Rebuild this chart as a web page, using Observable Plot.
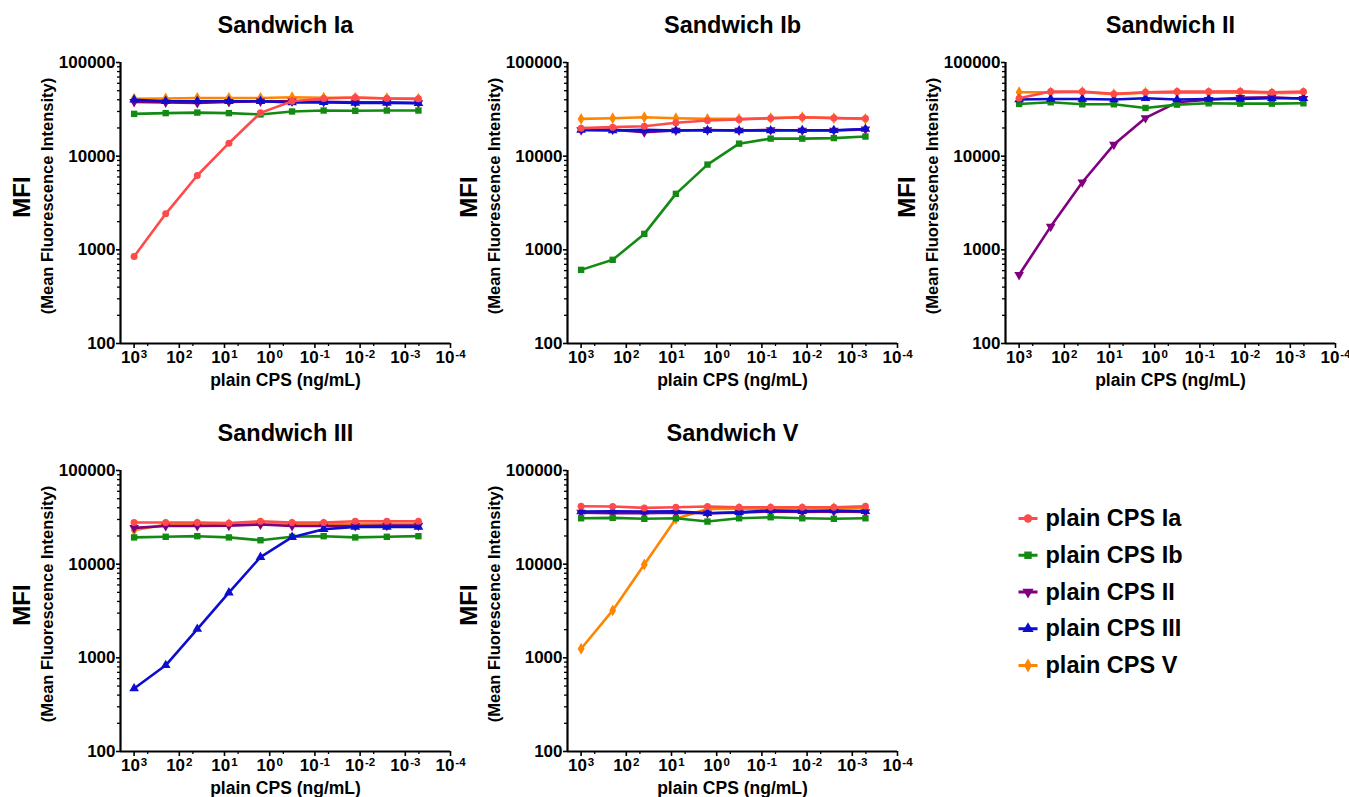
<!DOCTYPE html>
<html>
<head>
<meta charset="utf-8">
<script src="https://cdn.jsdelivr.net/npm/d3@7"></script>
<script src="https://cdn.jsdelivr.net/npm/@observablehq/plot@0.6"></script>
<style>
  html, body { margin: 0; padding: 0; background: #fff; overflow: hidden; }
  #root { position: relative; width: 1349px; height: 797px; background: #fff; }
  #root > svg { position: absolute; overflow: visible; }
</style>
</head>
<body>
<div id="root"></div>
<script>
// ---------- data ----------
const concentrations = [1000, 200, 40, 8, 1.6, 0.32, 0.064, 0.0128, 0.00256, 0.000512];
const seriesNames = ["plain CPS Ia", "plain CPS Ib", "plain CPS II", "plain CPS III", "plain CPS V"];
const seriesColors = ["#ff4a4a", "#138a13", "#800080", "#0d0dcf", "#ff8500"];
const panelTitles = ["Sandwich Ia", "Sandwich Ib", "Sandwich II", "Sandwich III", "Sandwich V"];

const xDecadeTicks = [1000, 100, 10, 1, 0.1, 0.01, 0.001, 0.0001];
const xMinorTicks = [500, 50, 5, 0.5, 0.05, 0.005, 0.0005];
const yMajorTicks = [100, 1000, 10000, 100000];
const yMinorTicks = [200, 300, 400, 500, 600, 700, 800, 900,
                     2000, 3000, 4000, 5000, 6000, 7000, 8000, 9000,
                     20000, 30000, 40000, 50000, 60000, 70000, 80000, 90000];

// MFI values, rows in seriesNames order (Ia, Ib, II, III, V)
const sandwichIa = [
  [849, 2425, 6220, 13750, 29000, 38600, 41200, 42300, 41200, 40900],
  [28300, 28800, 29200, 28800, 27900, 30000, 30700, 30500, 30700, 30700],
  [38000, 37500, 37000, 38000, 38500, 38500, 38000, 37500, 37500, 37000],
  [40000, 38600, 38600, 38600, 38600, 37400, 37600, 37000, 37000, 36800],
  [41000, 41300, 41800, 41800, 41800, 42600, 42000, 42000, 41500, 41000]
];
const sandwichIb = [
  [19900, 20400, 20900, 22700, 24000, 24600, 25400, 26000, 25600, 25200],
  [611, 782, 1480, 3960, 8130, 13600, 15400, 15400, 15600, 16200],
  [19000, 19200, 18000, 18800, 19000, 18800, 19000, 18800, 18800, 19300],
  [19100, 18800, 19100, 18800, 18900, 18800, 18800, 18900, 18900, 19500],
  [25000, 25400, 26000, 25400, 25000, 25000, 25500, 26000, 25500, 25000]
];
const sandwichII = [
  [41500, 48900, 48900, 46200, 48100, 48900, 48900, 49300, 48100, 48900],
  [36100, 37600, 35800, 35800, 32700, 35500, 36700, 36400, 36400, 36700],
  [541, 1770, 5270, 13300, 25600, 37600, 40000, 42000, 42500, 41000],
  [40200, 40800, 40800, 40200, 41500, 40200, 40800, 40800, 41500, 41500],
  [48100, 48000, 48500, 46000, 47500, 48000, 47500, 48000, 47000, 47500]
];
const sandwichIII = [
  [27800, 27800, 27800, 27400, 28700, 27800, 27800, 28700, 28700, 28700],
  [19300, 19600, 19900, 19300, 18000, 19600, 19900, 19300, 19600, 19900],
  [24400, 25600, 25600, 25800, 26500, 25600, 25600, 25600, 25800, 25800],
  [470, 832, 2030, 4960, 11900, 19400, 23600, 25000, 25000, 25000],
  [23000, 26500, 26800, 26800, 27000, 26800, 26800, 27000, 27000, 27000]
];
const sandwichV = [
  [41500, 41200, 39900, 40500, 41200, 40500, 40500, 40500, 40500, 41500],
  [30900, 31200, 30500, 30900, 28500, 30900, 31700, 30900, 30500, 30900],
  [35500, 35000, 35000, 35500, 35000, 35500, 36500, 36000, 36500, 36000],
  [36500, 36700, 36500, 36700, 35000, 35800, 37400, 36700, 37400, 36700],
  [1250, 3210, 9930, 30500, 38900, 39000, 39000, 39000, 39500, 39500]
];
const panelValues = [sandwichIa, sandwichIb, sandwichII, sandwichIII, sandwichV];

// ---------- layout ----------
const FONT = "'Liberation Sans', Arial, Helvetica, sans-serif";
const panelPos = [[0, 0], [447, 0], [885, 0], [0, 408], [447, 408]];
const drawOrder = [4, 2, 1, 3, 0]; // V, II, Ib, III, Ia (Ia on top)

const triangleDown = {
  draw(context, size) {
    const y = -Math.sqrt(size / (Math.sqrt(3) * 3));
    context.moveTo(0, -y * 2);
    context.lineTo(-Math.sqrt(3) * y, y);
    context.lineTo(Math.sqrt(3) * y, y);
    context.closePath();
  }
};
const seriesSymbols = ["circle", "square", triangleDown, "triangle", "diamond"];
const seriesR = [3.5, 3.6, 3.6, 3.6, 3.6];

const root = document.getElementById("root");

function superscriptTicks(svg) {
  svg.querySelectorAll('[aria-label="x-axis tick label"] text').forEach(t => {
    const s = t.textContent;
    const [base, exp] = s.split("^");
    t.textContent = base;
    const ts = document.createElementNS("http://www.w3.org/2000/svg", "tspan");
    ts.setAttribute("dy", "-0.42em");
    ts.setAttribute("font-size", "11.5px");
    ts.setAttribute("dx", "1");
    ts.textContent = exp;
    t.appendChild(ts);
  });
}

panelTitles.forEach((title, p) => {
  const vals = panelValues[p];
  const marks = [];
  drawOrder.forEach(i => {
    const rows = concentrations.map((c, j) => ({conc: c, mfi: vals[i][j]}));
    marks.push(Plot.line(rows, {x: "conc", y: "mfi", stroke: seriesColors[i], strokeWidth: 2.6}));
    marks.push(Plot.dot(rows, {x: "conc", y: "mfi", fill: seriesColors[i], stroke: "none", r: seriesR[i], symbol: seriesSymbols[i]}));
  });

  const svg = Plot.plot({
    width: 470,
    height: 390,
    marginLeft: 120,
    marginRight: 20,
    marginTop: 62,
    marginBottom: 47,
    style: {fontFamily: FONT, fontSize: "17px", fontWeight: "bold", color: "#000", background: "transparent", overflow: "visible"},
    x: {type: "log", domain: [2000, 0.0001], label: null},
    y: {type: "log", domain: [100, 100000], label: null},
    marks: [
      Plot.axisY({ticks: yMinorTicks, tickSize: 3, tickFormat: () => "", strokeWidth: 1.3, label: null}),
      Plot.axisY({ticks: yMajorTicks, tickSize: 4, tickPadding: 1, tickFormat: d => String(d), strokeWidth: 1.6, label: null}),
      Plot.axisX({ticks: xMinorTicks, tickSize: 3, tickFormat: () => "", strokeWidth: 1.3, label: null}),
      Plot.axisX({ticks: xDecadeTicks, tickSize: 5, tickPadding: 2, tickFormat: d => "10^" + Math.round(Math.log10(d)), strokeWidth: 1.6, label: null}),
      ...marks,
      Plot.ruleX([2000], {strokeWidth: 2.2}),
      Plot.ruleY([100], {strokeWidth: 2.2}),
      Plot.text([title], {text: d => d, frameAnchor: "top", dy: -37, fontSize: 23.5, fontWeight: "bold", lineAnchor: "middle", textAnchor: "middle"}),
      Plot.text(["MFI"], {text: d => d, frameAnchor: "left", rotate: -90, dx: -98, dy: -6, fontSize: 24, fontWeight: "bold", lineAnchor: "middle", textAnchor: "middle"}),
      Plot.text(["(Mean Fluorescence Intensity)"], {text: d => d, frameAnchor: "left", rotate: -90, dx: -72.5, dy: -7, fontSize: 16.5, fontWeight: "bold", lineAnchor: "middle", textAnchor: "middle"}),
      Plot.text(["plain CPS (ng/mL)"], {text: d => d, frameAnchor: "bottom", dy: 37, fontSize: 17.5, fontWeight: "bold", lineAnchor: "middle", textAnchor: "middle"})
    ]
  });
  superscriptTicks(svg);
  svg.style.left = panelPos[p][0] + "px";
  svg.style.top = panelPos[p][1] + "px";
  root.appendChild(svg);
});

// ---------- legend ----------
const legendRows = seriesNames.map((name, i) => ({name, idx: i}));
const legendMarks = [];
legendRows.forEach(r => {
  legendMarks.push(Plot.link([r], {x1: 18, x2: 37, y1: r.idx, y2: r.idx, stroke: seriesColors[r.idx], strokeWidth: 3}));
  legendMarks.push(Plot.dot([r], {x: 27.5, y: r.idx, fill: seriesColors[r.idx], r: 4.2, symbol: seriesSymbols[r.idx]}));
});
legendMarks.push(Plot.text(legendRows, {x: 45, y: "idx", text: "name", textAnchor: "start", fontSize: 23.5, fontWeight: "bold", lineAnchor: "middle"}));
const legend = Plot.plot({
  width: 250,
  height: 200,
  marginLeft: 0, marginRight: 0, marginTop: 50, marginBottom: 3,
  style: {fontFamily: FONT, color: "#000", background: "transparent", overflow: "visible"},
  x: {domain: [0, 250], axis: null},
  y: {domain: [0, 4], reverse: true, axis: null},
  marks: legendMarks
});
legend.style.left = "1000px";
legend.style.top = "468px";
root.appendChild(legend);
</script>
</body>
</html>
